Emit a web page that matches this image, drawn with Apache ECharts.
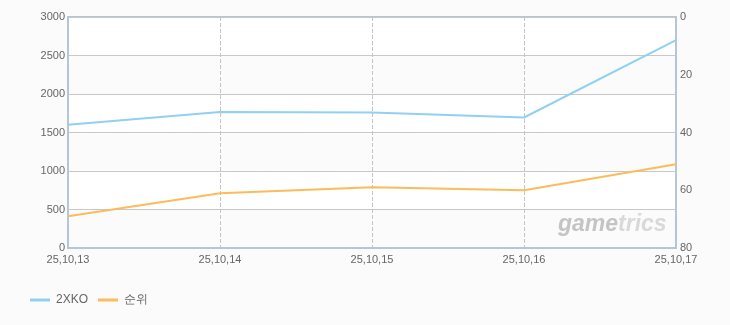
<!DOCTYPE html>
<html><head><meta charset="utf-8">
<script src="https://cdn.jsdelivr.net/npm/echarts@6/dist/echarts.min.js"></script>
<style>html,body{margin:0;padding:0;background:#fbfbfb;}#c{width:730px;height:325px;}</style>
</head><body><div id="c"></div>
<script>
const categories = ['25,10,13','25,10,14','25,10,15','25,10,16','25,10,17'];
const series2XKO = [1600, 1765, 1760, 1695, 2700];
const seriesRank = [69, 61, 59, 60, 51];
const leftTicks = [0, 500, 1000, 1500, 2000, 2500, 3000];
const rightTicks = [0, 20, 40, 60, 80];

const chart = echarts.init(document.getElementById('c'));
const lab = {color:'#666', fontSize:11, fontFamily:'Liberation Sans, Arial, sans-serif'};
const wmFont = 'italic bold 23px "Liberation Sans", Arial, sans-serif';
chart.setOption({
  backgroundColor:'#fbfbfb',
  animation:false,
  grid:{left:68, right:54, top:17, bottom:77, show:true, borderColor:'#b4c6d8', borderWidth:2, backgroundColor:'transparent'},
  legend:{left:30, top:294, padding:0, icon:'rect', itemWidth:20, itemHeight:3, itemGap:10,
    textStyle:{color:'#666', fontSize:12, fontFamily:'Liberation Sans, Arial, sans-serif', padding:[0,0,0,1]},
    data:['2XKO','순위']},
  xAxis:{type:'category', data:categories, boundaryGap:false,
    axisLine:{lineStyle:{color:'#b4c6d8', width:2}}, axisTick:{show:false},
    axisLabel:Object.assign({margin:6, interval:0}, lab),
    splitLine:{show:true, lineStyle:{color:'#c4c4c4', type:'dashed', width:1}}},
  yAxis:[
    {type:'value', min:leftTicks[0], max:leftTicks[leftTicks.length-1], interval:500,
     axisLine:{show:true, lineStyle:{color:'#b4c6d8', width:2}}, axisTick:{show:false},
     axisLabel:Object.assign({margin:3, formatter:v=>String(v)}, lab),
     splitLine:{lineStyle:{color:'#c8c8c8', width:1}},
     splitArea:{show:true, areaStyle:{color:['#fbfbfb','#ffffff']}}},
    {type:'value', inverse:true, min:rightTicks[0], max:rightTicks[rightTicks.length-1], interval:20,
     axisLine:{show:true, lineStyle:{color:'#b4c6d8', width:2}}, axisTick:{show:false},
     axisLabel:Object.assign({margin:4, formatter:v=>String(v)}, lab),
     splitLine:{show:false}}
  ],
  graphic:[{type:'text', left:558, top:213, z:100,
    style:{text:'{a|game}{b|trics}', font:wmFont,
      rich:{a:{fill:'#c4c4c4', font:wmFont}, b:{fill:'#d9d9d9', font:wmFont}}}}],
  series:[
    {name:'2XKO', type:'line', data:series2XKO, yAxisIndex:0, symbol:'none', z:3,
     lineStyle:{color:'#92d0f2', width:2}, itemStyle:{color:'#92d0f2'}},
    {name:'순위', type:'line', data:seriesRank, yAxisIndex:1, symbol:'none', z:3,
     lineStyle:{color:'#fcbc5c', width:2}, itemStyle:{color:'#fcbc5c'}}
  ]
});
</script></body></html>
